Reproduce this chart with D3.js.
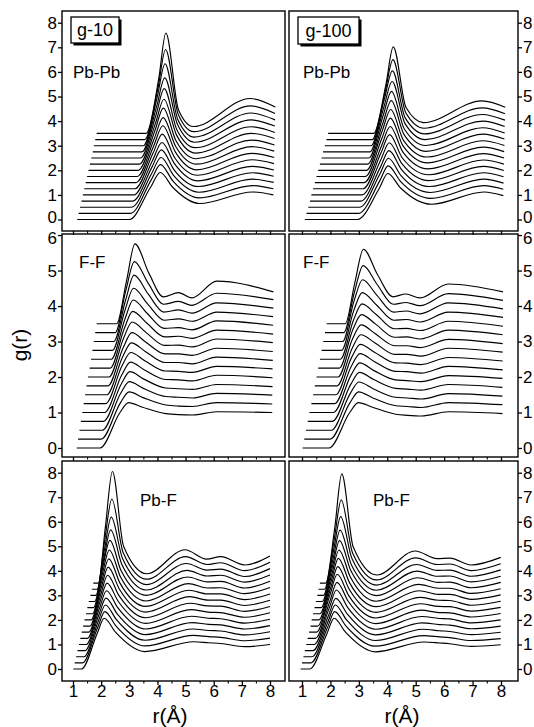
<!DOCTYPE html>
<html><head><meta charset="utf-8">
<script src="https://cdn.jsdelivr.net/npm/d3@7"></script>
<style>
body{margin:0;background:#fff}
svg text{font-family:Arial,"Liberation Sans",Helvetica,sans-serif;fill:#000}
</style>
</head><body>
<svg id="chart" width="534" height="727"></svg>
<script>
// ---------- data ----------
const offsets = [0,0.25,0.5,0.75,1,1.25,1.5,1.75,2,2.25,2.5,2.75,3,3.25,3.5];
const zeros = [0,0,0,0,0,0,0,0,0,0,0,0,0,0,0];
const xTicks = [1,2,3,4,5,6,7,8];
const xMinorTicks = [1.5,2.5,3.5,4.5,5.5,6.5,7.5];
const yTicksPb = [0,1,2,3,4,5,6,7,8];
const yTicksFF = [0,1,2,3,4,5,6];
const pairLabels = ["Pb-Pb","F-F","Pb-F"];
const runLabels = ["g-10","g-100"];

// Key points of each curve: rows = features, columns = curve index (bottom -> top)
// Pb-Pb, g-10 : start, onset, rise, peak, fall, min, 2nd peak, end
const PbPb10_r = [
 [1.15,1.20,1.25,1.30,1.35,1.40,1.45,1.50,1.55,1.60,1.65,1.70,1.74,1.79,1.84],
 [3.00,3.04,3.08,3.12,3.16,3.20,3.24,3.28,3.32,3.36,3.40,3.45,3.50,3.55,3.60],
 [3.75,3.77,3.79,3.81,3.83,3.85,3.87,3.89,3.91,3.93,3.95,3.97,3.99,4.02,4.05],
 [4.10,4.11,4.13,4.14,4.16,4.17,4.19,4.20,4.21,4.23,4.24,4.26,4.27,4.29,4.30],
 [4.55,4.56,4.58,4.59,4.61,4.62,4.64,4.65,4.66,4.68,4.69,4.71,4.72,4.74,4.75],
 [5.50,5.48,5.47,5.45,5.44,5.42,5.40,5.39,5.37,5.36,5.34,5.32,5.31,5.29,5.27],
 [7.38,7.38,7.37,7.37,7.36,7.36,7.35,7.35,7.34,7.34,7.33,7.33,7.32,7.31,7.30],
 [8.12,8.12,8.13,8.13,8.14,8.14,8.15,8.15,8.16,8.16,8.17,8.17,8.18,8.18,8.19]
];
const PbPb10_g = [
 zeros, zeros,
 [1.30,1.34,1.36,1.39,1.41,1.46,1.50,1.54,1.61,1.66,1.75,1.84,1.97,2.11,2.25],
 [1.91,1.98,2.02,2.08,2.13,2.22,2.31,2.39,2.53,2.64,2.82,3.01,3.33,3.66,4.08],
 [1.30,1.30,1.28,1.27,1.26,1.25,1.24,1.22,1.20,1.18,1.15,1.12,1.08,1.02,0.95],
 [0.65,0.63,0.61,0.59,0.57,0.55,0.52,0.50,0.47,0.45,0.42,0.39,0.35,0.32,0.28],
 [1.12,1.13,1.14,1.15,1.16,1.18,1.19,1.21,1.23,1.25,1.27,1.30,1.33,1.37,1.42],
 [1.00,1.00,1.01,1.01,1.01,1.02,1.02,1.03,1.03,1.04,1.04,1.05,1.05,1.06,1.07]
];

// Pb-Pb, g-100
const PbPb100_r = [
 [1.10,1.16,1.22,1.28,1.33,1.39,1.45,1.51,1.57,1.63,1.69,1.74,1.80,1.86,1.92],
 [2.95,2.99,3.03,3.07,3.11,3.15,3.19,3.23,3.27,3.31,3.35,3.39,3.43,3.47,3.52],
 [3.72,3.73,3.74,3.76,3.77,3.78,3.80,3.81,3.82,3.84,3.85,3.87,3.89,3.92,3.95],
 [4.02,4.03,4.04,4.06,4.07,4.08,4.10,4.11,4.12,4.14,4.15,4.17,4.18,4.20,4.21],
 [4.47,4.48,4.49,4.51,4.52,4.53,4.55,4.56,4.57,4.59,4.60,4.62,4.63,4.65,4.66],
 [5.55,5.53,5.51,5.49,5.47,5.45,5.43,5.41,5.39,5.37,5.35,5.33,5.31,5.29,5.27],
 [7.40,7.40,7.39,7.39,7.38,7.38,7.37,7.37,7.36,7.36,7.35,7.35,7.34,7.34,7.33],
 [8.08,8.08,8.09,8.09,8.10,8.10,8.11,8.11,8.12,8.12,8.13,8.13,8.14,8.14,8.15]
];
const PbPb100_g = [
 zeros, zeros,
 [1.27,1.31,1.35,1.38,1.42,1.46,1.50,1.55,1.60,1.65,1.71,1.78,1.86,1.92,1.97],
 [1.87,1.93,1.99,2.05,2.12,2.20,2.28,2.37,2.47,2.58,2.71,2.86,3.04,3.25,3.52],
 [1.28,1.28,1.27,1.27,1.26,1.25,1.24,1.23,1.22,1.20,1.18,1.16,1.13,1.09,1.05],
 [0.62,0.61,0.60,0.59,0.58,0.57,0.56,0.55,0.54,0.52,0.51,0.50,0.48,0.46,0.44],
 [1.12,1.13,1.14,1.15,1.16,1.17,1.18,1.19,1.20,1.22,1.23,1.25,1.27,1.29,1.32],
 [0.97,0.98,0.98,0.99,0.99,1.00,1.00,1.01,1.01,1.02,1.02,1.03,1.04,1.05,1.06]
];

// F-F, g-10 : start, onset, rise, peak, fall, min1, bump, min2, 2nd peak, end
const FF10_r = [
 [1.13,1.18,1.23,1.28,1.33,1.38,1.43,1.48,1.53,1.59,1.64,1.69,1.74,1.79,1.84],
 [1.96,2.00,2.04,2.08,2.12,2.16,2.20,2.24,2.28,2.32,2.36,2.40,2.45,2.50,2.55],
 [2.67,2.69,2.70,2.72,2.74,2.75,2.77,2.79,2.80,2.82,2.84,2.85,2.87,2.88,2.90],
 [2.97,2.99,3.00,3.02,3.04,3.05,3.07,3.09,3.10,3.12,3.14,3.15,3.17,3.18,3.20],
 [3.47,3.49,3.50,3.52,3.54,3.55,3.57,3.59,3.60,3.62,3.64,3.65,3.67,3.68,3.70],
 [4.30,4.30,4.29,4.29,4.28,4.28,4.27,4.27,4.26,4.26,4.25,4.24,4.23,4.22,4.21],
 [4.75,4.75,4.75,4.75,4.75,4.75,4.75,4.75,4.75,4.75,4.75,4.75,4.75,4.75,4.75],
 [5.25,5.25,5.25,5.25,5.25,5.24,5.24,5.24,5.24,5.23,5.23,5.23,5.23,5.22,5.22],
 [6.10,6.10,6.10,6.10,6.10,6.10,6.10,6.10,6.11,6.11,6.11,6.11,6.11,6.11,6.11],
 [8.08,8.08,8.08,8.09,8.09,8.09,8.10,8.10,8.10,8.11,8.11,8.11,8.12,8.12,8.12]
];
const FF10_g = [
 zeros, zeros,
 [1.00,1.03,1.05,1.06,1.07,1.08,1.08,1.09,1.10,1.11,1.12,1.14,1.17,1.20,1.20],
 [1.28,1.33,1.37,1.40,1.42,1.44,1.46,1.50,1.55,1.60,1.67,1.75,1.87,2.00,2.25],
 [1.15,1.17,1.18,1.19,1.20,1.21,1.22,1.23,1.25,1.27,1.29,1.31,1.34,1.38,1.42],
 [0.97,0.96,0.95,0.94,0.93,0.92,0.91,0.90,0.89,0.88,0.87,0.85,0.83,0.80,0.76],
 [0.94,0.93,0.93,0.92,0.92,0.91,0.91,0.90,0.90,0.90,0.89,0.89,0.89,0.88,0.88],
 [0.93,0.92,0.91,0.90,0.89,0.88,0.87,0.86,0.85,0.84,0.83,0.82,0.80,0.77,0.73],
 [1.02,1.03,1.04,1.04,1.05,1.05,1.06,1.06,1.07,1.07,1.08,1.08,1.09,1.11,1.20],
 [1.00,0.99,0.99,0.98,0.98,0.98,0.97,0.97,0.97,0.96,0.96,0.95,0.94,0.93,0.90]
];

// F-F, g-100
const FF100_r = [
 [1.02,1.08,1.14,1.20,1.26,1.33,1.39,1.45,1.51,1.57,1.63,1.69,1.75,1.81,1.87],
 [1.95,1.99,2.03,2.07,2.11,2.15,2.19,2.23,2.27,2.31,2.35,2.39,2.43,2.47,2.52],
 [2.68,2.69,2.70,2.72,2.73,2.74,2.75,2.77,2.78,2.79,2.81,2.82,2.83,2.85,2.86],
 [2.98,2.99,3.00,3.02,3.03,3.04,3.05,3.07,3.08,3.09,3.11,3.12,3.13,3.15,3.16],
 [3.48,3.49,3.50,3.52,3.53,3.54,3.55,3.57,3.58,3.59,3.61,3.62,3.63,3.65,3.66],
 [4.30,4.30,4.29,4.29,4.28,4.28,4.27,4.26,4.26,4.25,4.24,4.23,4.22,4.21,4.20],
 [4.70,4.70,4.70,4.70,4.69,4.69,4.69,4.68,4.68,4.68,4.67,4.67,4.66,4.66,4.65],
 [5.20,5.20,5.20,5.19,5.19,5.19,5.18,5.18,5.17,5.17,5.16,5.16,5.15,5.15,5.15],
 [6.15,6.15,6.15,6.15,6.15,6.15,6.15,6.15,6.15,6.15,6.15,6.15,6.15,6.15,6.15],
 [8.05,8.05,8.05,8.05,8.05,8.06,8.06,8.06,8.06,8.06,8.07,8.07,8.07,8.07,8.07]
];
const FF100_g = [
 zeros, zeros,
 [1.00,1.03,1.04,1.05,1.06,1.06,1.06,1.07,1.08,1.09,1.10,1.12,1.14,1.16,1.16],
 [1.28,1.33,1.36,1.38,1.40,1.41,1.42,1.44,1.47,1.51,1.56,1.63,1.74,1.89,2.10],
 [1.15,1.16,1.17,1.18,1.18,1.19,1.20,1.21,1.22,1.24,1.26,1.28,1.31,1.35,1.38],
 [0.95,0.94,0.93,0.93,0.92,0.91,0.90,0.89,0.88,0.87,0.86,0.85,0.83,0.80,0.76],
 [0.92,0.92,0.91,0.91,0.90,0.90,0.89,0.89,0.88,0.88,0.87,0.87,0.86,0.85,0.84],
 [0.90,0.89,0.88,0.88,0.87,0.86,0.85,0.84,0.83,0.82,0.81,0.80,0.78,0.76,0.73],
 [1.02,1.03,1.03,1.04,1.04,1.05,1.05,1.06,1.06,1.07,1.07,1.08,1.09,1.10,1.12],
 [0.97,0.97,0.96,0.96,0.96,0.95,0.95,0.95,0.94,0.94,0.93,0.93,0.92,0.91,0.90]
];

// Pb-F, g-10 : start, onset, rise, peak, fall, min1, 2nd peak, min2, 3rd peak, min3, end
const PbF10_r = [
 [1.01,1.06,1.11,1.16,1.21,1.26,1.31,1.36,1.41,1.46,1.51,1.56,1.62,1.67,1.72],
 [1.30,1.34,1.39,1.43,1.47,1.51,1.56,1.60,1.64,1.69,1.73,1.77,1.81,1.86,1.90],
 [1.86,1.88,1.90,1.92,1.94,1.96,1.98,2.00,2.02,2.04,2.06,2.09,2.11,2.13,2.15],
 [2.11,2.13,2.15,2.17,2.19,2.21,2.23,2.25,2.27,2.29,2.31,2.34,2.36,2.38,2.40],
 [2.51,2.53,2.55,2.57,2.59,2.61,2.63,2.65,2.67,2.69,2.71,2.74,2.76,2.78,2.80],
 [3.55,3.56,3.56,3.57,3.57,3.58,3.58,3.59,3.59,3.60,3.60,3.61,3.61,3.62,3.62],
 [5.30,5.28,5.26,5.23,5.21,5.19,5.16,5.14,5.12,5.10,5.07,5.05,5.03,5.00,4.98],
 [5.82,5.82,5.81,5.81,5.80,5.80,5.79,5.79,5.78,5.78,5.77,5.77,5.76,5.76,5.75],
 [6.25,6.25,6.25,6.25,6.25,6.25,6.25,6.25,6.25,6.25,6.25,6.25,6.25,6.25,6.25],
 [7.10,7.10,7.10,7.10,7.10,7.10,7.10,7.10,7.10,7.10,7.10,7.10,7.10,7.10,7.10],
 [8.00,8.00,8.00,8.00,8.00,8.00,8.00,8.00,8.00,8.00,8.00,8.00,8.00,8.00,8.00]
];
const PbF10_g = [
 zeros, zeros,
 [1.45,1.45,1.45,1.46,1.47,1.49,1.51,1.54,1.57,1.61,1.66,1.72,1.82,2.02,2.28],
 [2.07,2.09,2.11,2.14,2.19,2.25,2.32,2.40,2.49,2.60,2.74,2.92,3.19,3.68,4.55],
 [1.50,1.50,1.50,1.50,1.50,1.50,1.50,1.50,1.50,1.50,1.50,1.50,1.50,1.50,1.49],
 [0.71,0.69,0.67,0.65,0.63,0.61,0.59,0.57,0.55,0.52,0.50,0.47,0.44,0.41,0.38],
 [1.11,1.12,1.13,1.14,1.15,1.17,1.18,1.20,1.21,1.23,1.25,1.27,1.30,1.33,1.36],
 [1.07,1.07,1.07,1.07,1.07,1.07,1.07,1.06,1.06,1.05,1.05,1.04,1.03,1.01,0.98],
 [1.04,1.04,1.05,1.05,1.05,1.05,1.06,1.06,1.06,1.06,1.07,1.07,1.07,1.08,1.08],
 [0.91,0.90,0.89,0.88,0.87,0.86,0.85,0.84,0.83,0.82,0.80,0.79,0.77,0.76,0.74],
 [1.00,1.01,1.02,1.02,1.03,1.04,1.05,1.05,1.06,1.07,1.08,1.08,1.09,1.10,1.11]
];

// Pb-F, g-100
const PbF100_r = [
 [0.95,1.00,1.05,1.10,1.15,1.20,1.25,1.30,1.34,1.39,1.44,1.49,1.54,1.58,1.63],
 [1.27,1.31,1.35,1.39,1.43,1.47,1.51,1.55,1.59,1.63,1.67,1.71,1.75,1.79,1.83],
 [1.88,1.90,1.92,1.94,1.96,1.98,1.99,2.01,2.03,2.05,2.07,2.09,2.11,2.13,2.15],
 [2.13,2.15,2.17,2.19,2.21,2.23,2.24,2.26,2.28,2.30,2.32,2.34,2.36,2.38,2.40],
 [2.53,2.55,2.57,2.59,2.61,2.63,2.64,2.66,2.68,2.70,2.72,2.74,2.76,2.78,2.80],
 [3.58,3.58,3.59,3.59,3.60,3.60,3.60,3.61,3.61,3.61,3.62,3.62,3.62,3.63,3.63],
 [5.30,5.28,5.26,5.23,5.21,5.19,5.16,5.14,5.12,5.10,5.07,5.05,5.03,5.00,4.98],
 [5.85,5.84,5.84,5.83,5.82,5.81,5.81,5.80,5.79,5.79,5.78,5.77,5.76,5.76,5.75],
 [6.20,6.20,6.20,6.20,6.20,6.20,6.20,6.20,6.20,6.20,6.20,6.20,6.20,6.20,6.20],
 [6.95,6.95,6.95,6.95,6.95,6.95,6.95,6.95,6.95,6.95,6.95,6.95,6.95,6.95,6.95],
 [7.99,7.99,7.99,7.99,7.99,7.99,7.99,7.99,7.99,7.99,7.99,7.99,7.99,7.99,7.99]
];
const PbF100_g = [
 zeros, zeros,
 [1.45,1.45,1.45,1.45,1.49,1.51,1.54,1.56,1.59,1.62,1.66,1.72,1.83,2.00,2.23],
 [2.07,2.09,2.11,2.13,2.22,2.28,2.36,2.42,2.51,2.60,2.73,2.91,3.21,3.64,4.45],
 [1.50,1.50,1.50,1.50,1.50,1.50,1.50,1.50,1.50,1.50,1.50,1.49,1.49,1.48,1.48],
 [0.70,0.68,0.66,0.64,0.62,0.60,0.58,0.56,0.54,0.51,0.49,0.46,0.42,0.38,0.33],
 [1.10,1.11,1.12,1.13,1.14,1.15,1.16,1.17,1.19,1.20,1.22,1.24,1.26,1.28,1.31],
 [1.06,1.06,1.06,1.06,1.06,1.05,1.05,1.05,1.04,1.04,1.03,1.03,1.02,1.01,1.00],
 [1.03,1.03,1.03,1.04,1.04,1.04,1.04,1.04,1.04,1.04,1.04,1.04,1.03,1.03,1.02],
 [0.92,0.91,0.90,0.89,0.88,0.87,0.86,0.85,0.84,0.83,0.81,0.80,0.78,0.76,0.74],
 [0.99,0.99,1.00,1.00,1.00,1.01,1.01,1.01,1.02,1.02,1.03,1.03,1.04,1.04,1.05]
];

// ---------- layout ----------
const svg = d3.select("#chart");
const colPx = [[62,285],[289,518]];
const rowPx = [[11,231],[234,457],[461,681]];
const xDom = [[0.609,8.533],[0.543,8.598]];
const yDom = [[-0.467,8.476],[-0.254,6.03],[-0.489,8.477]];
const rowTicks = [yTicksPb, yTicksFF, yTicksPb];
const data = [
 [[PbPb10_r,PbPb10_g],[PbPb100_r,PbPb100_g]],
 [[FF10_r,FF10_g],[FF100_r,FF100_g]],
 [[PbF10_r,PbF10_g],[PbF100_r,PbF100_g]]
];
const FS = 17;

for (let row=0; row<3; row++){
  for (let col=0; col<2; col++){
    const [x0,x1] = colPx[col], [y0,y1] = rowPx[row];
    const x = d3.scaleLinear().domain(xDom[col]).range([x0,x1]);
    const y = d3.scaleLinear().domain(yDom[row]).range([y1,y0]);
    const g = svg.append("g");
    const [rr, gg] = data[row][col];
    const line = d3.line().x(d=>x(d[0])).y(d=>y(d[1])).curve(d3.curveMonotoneX);
    const clipId = `clip${row}${col}`;
    svg.append("clipPath").attr("id",clipId).append("rect")
      .attr("x",x0).attr("y",y0).attr("width",x1-x0).attr("height",y1-y0);
    const curves = g.append("g").attr("clip-path",`url(#${clipId})`);
    offsets.forEach((off,i)=>{
      const pts = rr.map((feat,k)=>[feat[i], gg[k][i] + off]);
      curves.append("path").attr("d",line(pts))
        .attr("fill","none").attr("stroke","#000").attr("stroke-width",1.15)
        .attr("stroke-linejoin","round");
    });
    // frame
    g.append("rect").attr("x",x0).attr("y",y0).attr("width",x1-x0).attr("height",y1-y0)
      .attr("fill","none").attr("stroke","#000").attr("stroke-width",1.4);
    // y axis
    const yAxis = (col===0? d3.axisLeft(y) : d3.axisRight(y))
      .tickValues(rowTicks[row]).tickSize(4).tickPadding(1).tickFormat(d3.format("d"));
    const ya = g.append("g").attr("transform",`translate(${col===0?x0:x1},0)`).call(yAxis);
    ya.select(".domain").remove();
    ya.selectAll("line").attr("stroke-width",1.3);
    ya.selectAll("text").attr("font-size",FS).attr("font-family",null);
    // keep the stacked "0" (upper panel) and "6" (middle panel) labels apart
    if (row===0) ya.selectAll(".tick").filter(d=>d===0).select("text").attr("dy","0.2em");
    if (row===1) ya.selectAll(".tick").filter(d=>d===6).select("text").attr("dy","0.5em");
    // x axis ticks
    const xAxis = d3.axisBottom(x).tickValues(xTicks).tickSize(4).tickPadding(0)
      .tickFormat(row===2? d3.format("d") : ()=> "");
    const xa = g.append("g").attr("transform",`translate(0,${y1})`).call(xAxis);
    xa.select(".domain").remove();
    xa.selectAll("line").attr("stroke-width",1.3);
    xa.selectAll("text").attr("font-size",FS).attr("font-family",null);
    const xm = g.append("g").attr("transform",`translate(0,${y1})`)
      .call(d3.axisBottom(x).tickValues(xMinorTicks).tickSize(2.5).tickFormat(()=>""));
    xm.select(".domain").remove();
    xm.selectAll("line").attr("stroke-width",1.1);
  }
}

// legend boxes (run)
const boxes = [{x:71,y:17,w:48,h:26,t:runLabels[0]},{x:298,y:17,w:61,h:27,t:runLabels[1]}];
boxes.forEach(b=>{
  svg.append("rect").attr("x",b.x+2.5).attr("y",b.y+2.5).attr("width",b.w).attr("height",b.h).attr("fill","#000");
  svg.append("rect").attr("x",b.x).attr("y",b.y).attr("width",b.w).attr("height",b.h)
    .attr("fill","#fff").attr("stroke","#000").attr("stroke-width",1.3);
  svg.append("text").attr("x",b.x+b.w/2).attr("y",b.y+b.h/2+6).attr("text-anchor","middle")
    .attr("font-size",FS+1).text(b.t);
});

// pair labels
const pairPos = [[[73,78],[303,78]],[[79,268],[303,268]],[[140,506],[373,506]]];
pairPos.forEach((row,ri)=>row.forEach(p=>{
  svg.append("text").attr("x",p[0]).attr("y",p[1]).attr("font-size",FS).text(pairLabels[ri]);
}));

// axis titles
svg.append("text").attr("transform","translate(27,345) rotate(-90)").attr("text-anchor","middle")
  .attr("font-size",21).text("g(r)");
[170,402].forEach(cx=>{
  svg.append("text").attr("x",cx).attr("y",723).attr("text-anchor","middle").attr("font-size",21).text("r(Å)");
});
</script>
</body></html>
